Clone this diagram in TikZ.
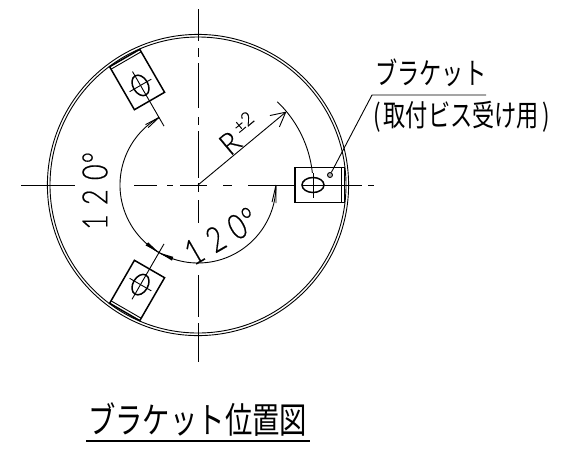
\documentclass[tikz,border=0pt]{standalone}
\usepackage{fontspec}
\newfontfamily\jpfont[FakeStretch=.74]{Noto Sans CJK JP}
\newfontfamily\jptitle[FakeStretch=.76]{Noto Sans CJK JP}
\newfontfamily\numfont[FakeStretch=.78,LetterSpace=26,FakeBold=.4]{Lato Light}
\newfontfamily\rfont[FakeStretch=.95,FakeBold=.5]{Lato Light}
\tikzset{
  thinline/.style={line width=.9pt,black},
  medline/.style={line width=1.5pt,black},
  dimtext/.style={inner sep=0pt,font=\fontsize{35}{35}\numfont},
  jptext/.style={inner sep=0pt,anchor=base west}
}
\begin{document}
\begin{tikzpicture}[x=1pt,y=1pt]
\useasboundingbox (0,0) rectangle (572,-451);
\fill[white] (0,0) rectangle (572,-451);
\begin{scope}[shift={(198,-185)}]
  % wall
  \draw[thinline] (0,0) circle[radius=150.6];
  \draw[thinline] (0,0) circle[radius=148];
  % centre lines (long dash - short dash)
  \draw[line width=.9pt] (0,176) -- (0,144) (0,137) -- (0,128) (0,122) -- (0,77) (0,68) -- (0,60) (0,54) -- (0,7)
     (0,2) -- (0,-7) (0,-15) -- (0,-38) (0,-90) -- (0,-132) (0,-138) -- (0,-177);
  \draw[line width=.9pt] (-177,0) -- (-123,0) (-64,0) -- (-41,0) (-31,0) -- (-25,0) (-18,0) -- (9,0) (25,0) -- (34,0) (50,0) -- (97,0)
     (170,0) -- (176,0);
  % brackets
  \foreach \a in {0,120,240}{
    \begin{scope}[rotate=\a]
      \draw[medline,fill=white] (97,-17.4) rectangle (146.6,17.4);
      \draw[thinline] (143.8,-17.4) -- (143.8,17.4);
      \draw[medline] (115,0) ellipse[x radius=11,y radius=7.5];
      \draw[thinline] (115,-12.5) -- (115,12.5);
    \end{scope}
  }
  \draw[thinline] (104,0) -- (164,0);
  \draw[thinline] (120:131) -- (120:68);
  \draw[thinline] (240:132) -- (240:68);
  % angular dimensions
  \draw[thinline] (120:78) arc[start angle=120,end angle=251,radius=78];
  \draw[thinline] (0:78) arc[start angle=360,end angle=229.5,radius=78];
  \draw[thinline] (120:78) -- (131:80) (120:78) -- (131:76);
  \fill (240:78) -- (229:80) -- (229:76) -- cycle;
  \fill (240:78) -- (251:80) -- (251:76) -- cycle;
  \draw[thinline] (0:78) -- (-13:80) (0:78) -- (-13:76);
  % radius
  \draw[thinline] (46.4:115) arc[start angle=46.4,end angle=6,radius=115];
  \coordinate (ctr) at (0,0);
  \coordinate (rtip) at (39.7:114);
  \draw[thinline] (ctr) -- (rtip);
  \draw[thinline] (rtip) -- (35.5:100) (rtip) -- (44:100);
  % labels on the drawing
  \node[dimtext,rotate=90] (leftangle) at (-103,-6) {120\kern1pt °};
  \node[dimtext,rotate=30] (botangle) at (23,-51) {120\kern1pt °};
  \node[inner sep=0pt,rotate=40,font=\fontsize{30}{30}\rfont] (rad) at (32,42) {R};
  \node[inner sep=0pt,rotate=40,font=\fontsize{19}{19}\rfont] (tol) at (45,63) {±2};
\end{scope}
% leader
\coordinate (lstart) at (486,-95);
\coordinate (lknee) at (372,-95);
\node[circle,draw,line width=.9pt,fill=gray!60,minimum size=5pt,inner sep=0pt] (dot) at (330,-175) {};
\draw[thinline] (lstart) -- (lknee) -- (dot);
\node[jptext,font=\fontsize{30}{30}\jpfont] (lab1) at (375,-84) {ブラケット};
\node[jptext,font=\fontsize{30}{30}\jpfont] (lab2) at (373,-126) {(\kern3pt 取付ビス受け用\kern3pt )};
\node[jptext,font=\fontsize{36}{36}\jptitle] (title) at (88,-433) {ブラケット位置図};
\draw[medline] (86,-441) -- (310,-441);
\end{tikzpicture}
\end{document}
